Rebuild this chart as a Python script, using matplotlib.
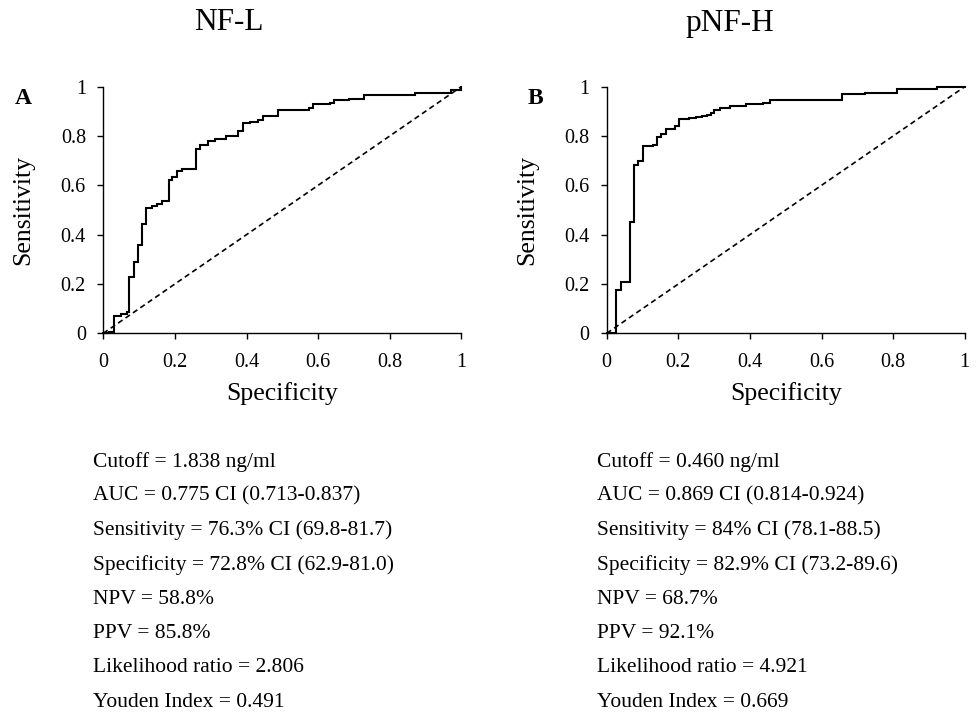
import matplotlib
matplotlib.use("Agg")
import matplotlib.pyplot as plt

plt.rcParams['font.family'] = ['Liberation Serif', 'DejaVu Serif']

# ---- data ----
titles = ["NF-L", "pNF-H"]
panel_letters = ["A", "B"]
ticks = [0, 0.2, 0.4, 0.6, 0.8, 1]
tick_labels = ["0", "0.2", "0.4", "0.6", "0.8", "1"]

nfl_x = [0, 0.015, 0.03, 0.05, 0.065, 0.073, 0.073, 0.086, 0.098, 0.107, 0.118,
         0.135, 0.15, 0.165, 0.183, 0.183, 0.193, 0.205, 0.22, 0.24, 0.259, 0.259,
         0.27, 0.293, 0.312, 0.344, 0.377, 0.39, 0.409, 0.433, 0.447, 0.488,
         0.575, 0.587, 0.634, 0.644, 0.686, 0.728, 0.872, 0.946, 0.97, 1.0]
nfl_y = [0, 0.007, 0.07, 0.078, 0.085, 0.095, 0.227, 0.29, 0.36, 0.443, 0.507,
         0.515, 0.525, 0.535, 0.543, 0.62, 0.632, 0.659, 0.665, 0.668, 0.673, 0.746,
         0.762, 0.78, 0.786, 0.80, 0.82, 0.851, 0.858, 0.866, 0.882, 0.905,
         0.915, 0.929, 0.935, 0.946, 0.952, 0.966, 0.973, 0.975, 0.985, 1.0]

pnfh_x = [0, 0.026, 0.039, 0.065, 0.077, 0.088, 0.102, 0.13, 0.14, 0.153, 0.166,
          0.19, 0.203, 0.23, 0.25, 0.265, 0.28, 0.29, 0.30, 0.316, 0.344, 0.39,
          0.437, 0.456, 0.6, 0.656, 0.656, 0.722, 0.81, 0.922, 1.0]
pnfh_y = [0, 0.176, 0.208, 0.453, 0.682, 0.70, 0.759, 0.762, 0.795, 0.808, 0.828,
          0.84, 0.868, 0.872, 0.877, 0.881, 0.886, 0.893, 0.905, 0.915, 0.922, 0.928,
          0.935, 0.946, 0.948, 0.952, 0.969, 0.973, 0.99, 0.997, 1.0]

stats_nfl = ["Cutoff = 1.838 ng/ml",
             "AUC = 0.775 CI (0.713-0.837)",
             "Sensitivity = 76.3% CI (69.8-81.7)",
             "Specificity = 72.8% CI (62.9-81.0)",
             "NPV = 58.8%",
             "PPV = 85.8%",
             "Likelihood ratio = 2.806",
             "Youden Index = 0.491"]
stats_pnfh = ["Cutoff = 0.460 ng/ml",
              "AUC = 0.869 CI (0.814-0.924)",
              "Sensitivity = 84% CI (78.1-88.5)",
              "Specificity = 82.9% CI (73.2-89.6)",
              "NPV = 68.7%",
              "PPV = 92.1%",
              "Likelihood ratio = 4.921",
              "Youden Index = 0.669"]

W, H = 977, 713
fig = plt.figure(figsize=(W / 100, H / 100), dpi=100)
fig.patch.set_facecolor("white")

def px(x, y):
    return x / W, 1 - y / H

panels = [
    dict(left=103.3, xs=nfl_x, ys=nfl_y, title=titles[0], letter=panel_letters[0],
         title_x=229, letter_x=23, ylab_x=23, stats=stats_nfl, stats_x=93),
    dict(left=606.7, xs=pnfh_x, ys=pnfh_y, title=titles[1], letter=panel_letters[1],
         title_x=730, letter_x=535, ylab_x=527, stats=stats_pnfh, stats_x=597),
]

top, bottom = 86.7, 333.3
aw = 358
for p in panels:
    ax = fig.add_axes([p['left'] / W, 1 - bottom / H, aw / W, (bottom - top) / H])
    ax.plot([0, 1], [0, 1], color="black", lw=1.2, linestyle=(0, (3.2, 2.2)), clip_on=False)
    ax.plot(p['xs'], p['ys'], color="black", lw=1.5, drawstyle="steps-post",
            clip_on=False, solid_joinstyle="miter")
    ax.set_xlim(0, 1)
    ax.set_ylim(0, 1)
    for s in ["top", "right"]:
        ax.spines[s].set_visible(False)
    for s in ["left", "bottom"]:
        ax.spines[s].set_linewidth(1.0)
    ax.set_xticks(ticks)
    ax.set_xticklabels(tick_labels)
    ax.set_yticks(ticks)
    ax.set_yticklabels(tick_labels)
    ax.tick_params(direction="out", length=4.5, width=1.0, labelsize=14.5, pad=10)
    ax.tick_params(axis="y", pad=8)
    ax.set_xlabel("Specificity", fontsize=18.5, labelpad=7)

    x, y = px(p['ylab_x'], 210)
    fig.text(x, y, "Sensitivity", rotation=90, ha="center", va="center", fontsize=18.5)
    x, y = px(p['title_x'], 23)
    fig.text(x, y, p['title'], ha="center", va="center", fontsize=22.5)
    x, y = px(p['letter_x'], 99)
    fig.text(x, y, p['letter'], ha="center", va="center", fontsize=17, fontweight="bold")
    for i, line in enumerate(p['stats']):
        x, y = px(p['stats_x'], 462 + i * 34.3)
        fig.text(x, y, line, ha="left", va="center", fontsize=15.5)

fig.savefig("out.png", dpi=100, facecolor="white")
